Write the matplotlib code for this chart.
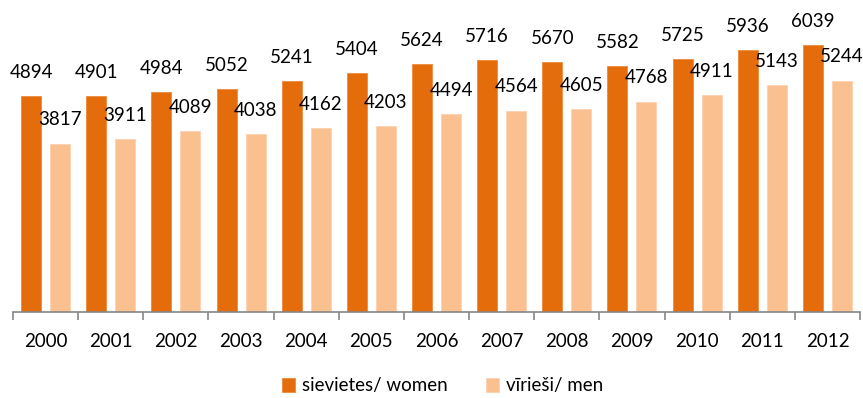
import numpy as np
import matplotlib.pyplot as plt

plt.rcParams['font.family'] = ['Lato', 'DejaVu Sans']

years = ['2000', '2001', '2002', '2003', '2004', '2005', '2006',
         '2007', '2008', '2009', '2010', '2011', '2012']
women = [4894, 4901, 4984, 5052, 5241, 5404, 5624, 5716, 5670, 5582, 5725, 5936, 6039]
men = [3817, 3911, 4089, 4038, 4162, 4203, 4494, 4564, 4605, 4768, 4911, 5143, 5244]

dark = '#E46C0A'
light = '#FAC090'

fig = plt.figure(figsize=(8.63, 3.98), dpi=100)
ax = fig.add_axes([13 / 863, 86 / 398, 847 / 863, 309 / 398])

x = np.arange(len(years))
w = 0.307
b1 = ax.bar(x - 0.223, women, w, color=dark, edgecolor='#EC8A3C', linewidth=0.6,
            label='sievietes/ women')
b2 = ax.bar(x + 0.223, men, w, color=light, edgecolor='#FCD3B0', linewidth=0.6,
            label='vīrieši/ men')

# value labels above each bar
for bars, vals in ((b1, women), (b2, men)):
    for r, v in zip(bars, vals):
        ax.annotate(str(v), (r.get_x() + r.get_width() / 2, v),
                    xytext=(0, 13), textcoords='offset points',
                    ha='center', va='baseline', fontsize=13.5, color='#000000')

ax.set_xlim(-0.5, len(years) - 0.5)
ax.set_ylim(0, 7000)

for s in ('top', 'right', 'left'):
    ax.spines[s].set_visible(False)
ax.spines['bottom'].set_color('#868686')
ax.spines['bottom'].set_linewidth(1.2)

ax.set_yticks([])
ax.set_xticks(x)
ax.set_xticklabels(years, fontsize=13.5)
ax.tick_params(axis='x', which='major', length=0, pad=15)
ax.set_xticks(np.arange(-0.5, len(years)), minor=True)
ax.tick_params(axis='x', which='minor', length=6, width=1.2, color='#868686')

fig.legend(handles=[b1, b2], loc='center', bbox_to_anchor=(0.513, 12 / 398),
           ncol=2, frameon=False, fontsize=13.5, handlelength=0.7, handleheight=0.7,
           handletextpad=0.4, columnspacing=2.0, borderpad=0.0)

fig.savefig('out.png', dpi=100)
